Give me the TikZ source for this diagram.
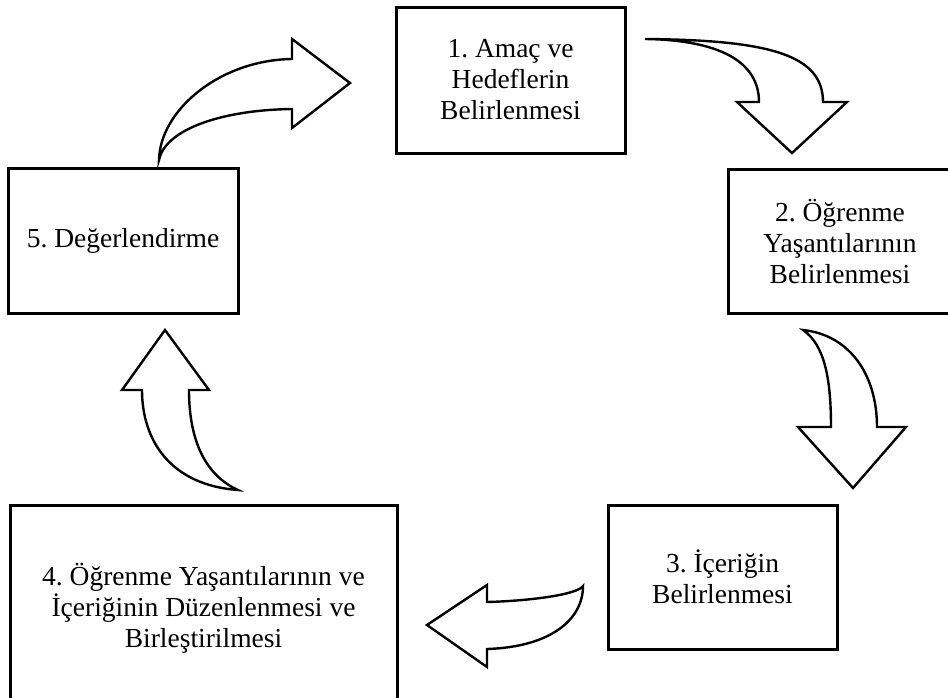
\documentclass[tikz,border=0pt]{standalone}
\usepackage{fontspec}
\setmainfont{Liberation Serif}
\frenchspacing
\begin{document}
\begin{tikzpicture}[x=1pt,y=-1pt,
  stagebox/.style={draw=black, line width=3pt, fill=white, align=center,
    inner sep=0pt, font=\fontsize{27.5}{31}\selectfont},
  blockarrow/.style={draw=black, fill=white, line width=2.4pt, line join=miter, miter limit=10}]
\useasboundingbox[fill=white] (0,0) rectangle (948,697);

\node[stagebox, minimum width=229pt, minimum height=146pt] (s1) at (510.5,80)
  {1. Amaç ve\\Hedeflerin\\Belirlenmesi};
\node[stagebox, minimum width=224pt, minimum height=144pt] (s2) at (840,241)
  {2. Öğrenme\\Yaşantılarının\\Belirlenmesi};
\node[stagebox, minimum width=229pt, minimum height=144pt] (s3) at (722.5,577)
  {3. İçeriğin\\Belirlenmesi};
\node[stagebox, minimum width=387pt, minimum height=206pt] (s4) at (203.5,608)
  {4. Öğrenme Yaşantılarının ve\\İçeriğinin Düzenlenmesi ve\\Birleştirilmesi};
\node[stagebox, minimum width=230pt, minimum height=145pt] (s5) at (123,240.5)
  {5. Değerlendirme};

% 5 -> 1
\draw[blockarrow] (159,160) .. controls (160,110) and (220,60) .. (292,59)
  -- (292,39) -- (350,83) -- (292,128) -- (292,109)
  .. controls (220,110) and (165,130) .. cycle;
% 1 -> 2
\draw[blockarrow] (645,39) .. controls (720,40) and (759,62) .. (759,102)
  -- (737,102) -- (792,153) -- (847,102) -- (823,102)
  .. controls (823,55) and (770,40) .. cycle;
% 2 -> 3
\draw[blockarrow] (803,330) .. controls (825,345) and (831,380) .. (831,427)
  -- (798,427) -- (853,488) -- (906,427) -- (877,427)
  .. controls (877,375) and (850,335) .. cycle;
% 3 -> 4
\draw[blockarrow] (583,586) .. controls (577,595) and (527,601) .. (487,602)
  -- (487,585) -- (427,625) -- (487,667) -- (487,649)
  .. controls (550,647) and (583,620) .. cycle;
% 4 -> 5
\draw[blockarrow] (238,490) .. controls (170,485) and (142,440) .. (142,390)
  -- (122,390) -- (165,330) -- (209,390) -- (189,390)
  .. controls (189,440) and (205,475) .. cycle;
\end{tikzpicture}
\end{document}
